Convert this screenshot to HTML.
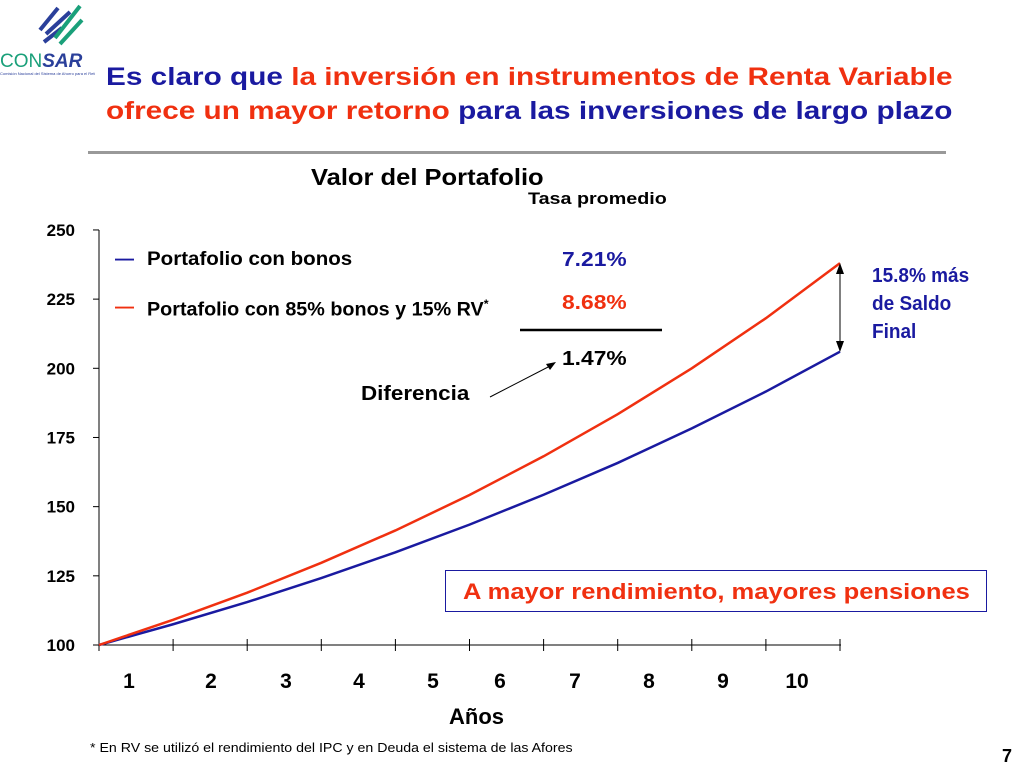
<!DOCTYPE html>
<html><head><meta charset="utf-8"><style>
body{margin:0;width:1024px;height:768px;background:#fff;position:relative;overflow:hidden;font-family:"Liberation Sans",sans-serif}
.a{position:absolute;white-space:nowrap;transform-origin:0 0}
</style></head><body>
<div class="a" style="left:0;top:0;width:95px;height:80px">
<svg width="95" height="80">
<g stroke="#2a3f9a" stroke-width="4" fill="none"><path d="M40 30 L58 8"/><path d="M46 34 L70 12"/><path d="M44 42 L62 28"/></g>
<g stroke="#1aa07a" stroke-width="4" fill="none"><path d="M55 38 L80 6"/><path d="M60 44 L82 20"/></g>
<text x="0" y="67" font-size="19" fill="#1aa07a" font-family="Liberation Sans">CON<tspan fill="#2a3f9a" font-weight="bold" font-style="italic">SAR</tspan></text>
<text x="0" y="75" font-size="4" fill="#2a3f9a">Comisión Nacional del Sistema de Ahorro para el Retiro</text></svg></div>
<div class="a" style="left:106px;top:60px;font-size:25px;font-weight:bold;color:#1a1aa0;line-height:34px;transform:scaleX(1.19)">Es claro que <span style="color:#f03010">la inversión en instrumentos de Renta Variable</span><br><span style="color:#f03010">ofrece un mayor retorno</span> para las inversiones de largo plazo</div>
<div class="a" style="left:88px;top:151px;width:858px;height:3px;background:#999"></div>
<div class="a" style="left:311px;top:164px;font-size:23px;font-weight:bold;transform:scaleX(1.11)">Valor del Portafolio</div>
<div class="a" style="left:528px;top:189px;font-size:17px;font-weight:bold;transform:scaleX(1.16)">Tasa promedio</div>
<svg class="a" style="left:0;top:0" width="1024" height="768" id="ch"></svg>
<div class="a" style="left:115px;top:249px;font-size:19px;font-weight:bold"><span style="color:#1a1aa0">—</span> <span style="position:absolute;left:32px;top:0;transform:scaleX(1.08);transform-origin:0 0">Portafolio con bonos</span></div>
<div class="a" style="left:115px;top:297px;font-size:19px;font-weight:bold"><span style="color:#f03010">—</span> <span style="position:absolute;left:32px;top:0;transform:scaleX(1.04);transform-origin:0 0">Portafolio con 85% bonos y 15% RV<sup style="font-size:12px">*</sup></span></div>
<div class="a" style="left:562px;top:249px;font-size:20px;font-weight:bold;color:#1a1aa0;transform:scaleX(1.14)">7.21%</div>
<div class="a" style="left:562px;top:292px;font-size:20px;font-weight:bold;color:#f03010;transform:scaleX(1.14)">8.68%</div>
<div class="a" style="left:562px;top:348px;font-size:20px;font-weight:bold;transform:scaleX(1.14)">1.47%</div>
<div class="a" style="left:361px;top:383px;font-size:20px;font-weight:bold;transform:scaleX(1.12)">Diferencia</div>
<div class="a" style="left:872px;top:262px;font-size:20px;font-weight:bold;color:#1a1aa0;line-height:28px;transform:scaleX(0.95)">15.8% más<br>de Saldo<br>Final</div>
<div class="a" style="left:445px;top:570px;width:542px;height:42px;border:1px solid #1a1aa0;box-sizing:border-box;color:#f03010;font-size:22px;font-weight:bold;text-align:center;line-height:42px"><span style="display:inline-block;transform:scaleX(1.16);transform-origin:50% 50%">A mayor rendimiento, mayores pensiones</span></div>
<div class="a" style="left:449px;top:704px;font-size:22px;font-weight:bold">Años</div>
<div class="a" style="left:90px;top:740px;font-size:13px;transform:scaleX(1.09)">* En RV se utilizó el rendimiento del IPC y en Deuda el sistema de las Afores</div>
<div class="a" style="left:1002px;top:746px;font-size:18px;font-weight:bold">7</div>
<script>
const years=[0,1,2,3,4,5,6,7,8,9,10];
const bonos=[100,107.5,115.5,124.2,133.5,143.5,154.3,165.8,178.3,191.6,206];
const rv=[100,109.1,118.9,129.7,141.4,154.2,168.2,183.4,200,218.1,238];
const yTicks=[100,125,150,175,200,225,250];
const xLabels=["1","2","3","4","5","6","7","8","9","10"];
const xLabelPos=[129,211,286,359,433,500,575,649,723,797];
const svg=document.getElementById('ch');const NS='http://www.w3.org/2000/svg';
const X=t=>99+t*74.1, Y=v=>645-(v-100)*2.767;
function mk(tag,at){const e=document.createElementNS(NS,tag);for(const k in at)e.setAttribute(k,at[k]);svg.appendChild(e);return e;}
let e=mk('line',{x1:99,y1:230,x2:99,y2:645,stroke:'#000'});


e=mk('line',{x1:99,y1:645,x2:841,y2:645,stroke:'#000'});


yTicks.forEach(v=>{mk('line',{x1:93,y1:Y(v),x2:99,y2:Y(v),stroke:'#000'});
 const t=mk('text',{x:75,y:Y(v)+6,'text-anchor':'end','font-size':17,'font-weight':'bold','font-family':'Liberation Sans'});t.textContent=v;
 
 });
years.forEach(t=>mk('line',{x1:X(t),y1:639,x2:X(t),y2:651,stroke:'#000'}));
xLabels.forEach((l,i)=>{const t=mk('text',{x:xLabelPos[i],y:688,'text-anchor':'middle','font-size':21,'font-weight':'bold','font-family':'Liberation Sans'});t.textContent=l;
 
 });
function line(d,c,n){const p=mk('path',{d:'M'+d.map((v,i)=>X(years[i])+' '+Y(v)).join(' L'),fill:'none',stroke:c,'stroke-width':2.5});
 
 }
line(bonos,'#1a1aa0','series-bonos');line(rv,'#f03010','series-rv');
mk('line',{x1:520,y1:330,x2:662,y2:330,stroke:'#000','stroke-width':2.5});
mk('line',{x1:490,y1:397,x2:552,y2:365,stroke:'#000'});
mk('path',{d:'M556 362 L546 364 L550 370 Z',fill:'#000'});
mk('line',{x1:840,y1:270,x2:840,y2:345,stroke:'#000'});
mk('path',{d:'M840 263 L836 274 L844 274 Z M840 352 L836 341 L844 341 Z',fill:'#000'});
</script>
</body></html>
